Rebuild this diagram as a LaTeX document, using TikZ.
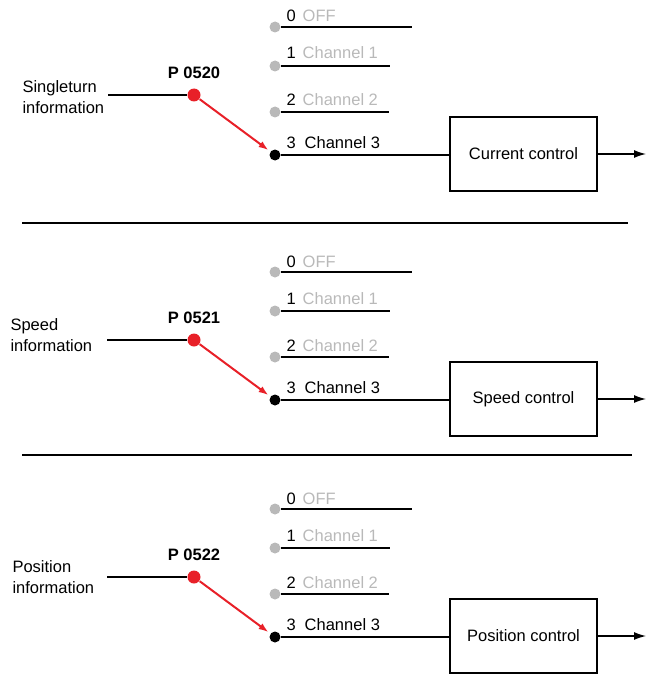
\documentclass[tikz,border=0pt]{standalone}
\usepackage{fontspec}
\setmainfont{Liberation Sans}
\usetikzlibrary{positioning,arrows.meta}
\definecolor{offgray}{RGB}{185,185,185}
\definecolor{selred}{RGB}{232,32,40}

\begin{document}
\begin{tikzpicture}[x=1pt,y=-1pt,line width=1.1pt,
    font=\fontsize{16.5}{21}\selectfont,
    pin dot/.style={circle,fill=offgray,inner sep=0pt,minimum size=11pt},
    on dot/.style={pin dot,fill=black},
    sel dot/.style={circle,fill=selred,inner sep=0pt,minimum size=13pt},
    chan/.style={anchor=base west,inner sep=0pt,text=offgray},
    ctrl/.style={draw,minimum width=147pt,minimum height=74pt}]
    \useasboundingbox (0,0) rectangle (646,674);
    % one switch per controller
    \foreach \n/\y/\tx/\ty/\ip/\inf/\ctl in {0520/155/22/97/108/Singleturn/Current control,
                                              0521/400/10/335/107/Speed/Speed control,
                                              0522/637/12/577/107/Position/Position control}{
        \foreach \c/\dy/\len/\lab/\by in {0/128/412/OFF/5, 1/89/390/Channel 1/7, 2/43/389/Channel 2/6}{
            \node[pin dot] (ch\c\n) at (275,\y-\dy) {};
            \coordinate (end\c\n) at (\len,\y-\dy);
            \draw (ch\c\n) -- (end\c\n);
            \node[chan] (lab\c\n) at (286,\y-\dy-\by) {\textcolor{black}{\c}\hspace{7pt}\lab};
        }
        \node[on dot] (ch3\n) at (275,\y) {};
        \node[chan,text=black] (lab3\n) at (286,\y-7) {3\hspace{9pt}Channel 3};
        \node[anchor=west,align=left,inner sep=0pt] (in\n) at (\tx,\ty) {\inf\\information};
        \coordinate (src\n) at (\ip,\y-60);
        \node[sel dot] (sel\n) at (194,\y-60) {};
        \node[font=\fontsize{16.5}{21}\selectfont\bfseries,above=5pt of sel\n] (par\n) {P \n};
        \draw (src\n) -- (sel\n);
        \draw[selred,line width=2pt,-{Latex[length=10pt,width=7pt]},shorten >=2pt] (sel\n) -- (ch3\n);
        \node[ctrl] (ctl\n) at (523.5,\y-1) {\ctl};
        \draw (ch3\n) -- (ch3\n -| ctl\n.west);
        \coordinate (out\n) at (646,\y-1);
        \draw[line width=1.3pt,-{Latex[length=12pt,width=8pt]}] (ctl\n) -- (out\n);
    }
    % separators
    \draw[line width=1.4pt] (22,223) -- (628,223);
    \draw[line width=1.4pt] (22,455) -- (632,455);
\end{tikzpicture}
\end{document}
